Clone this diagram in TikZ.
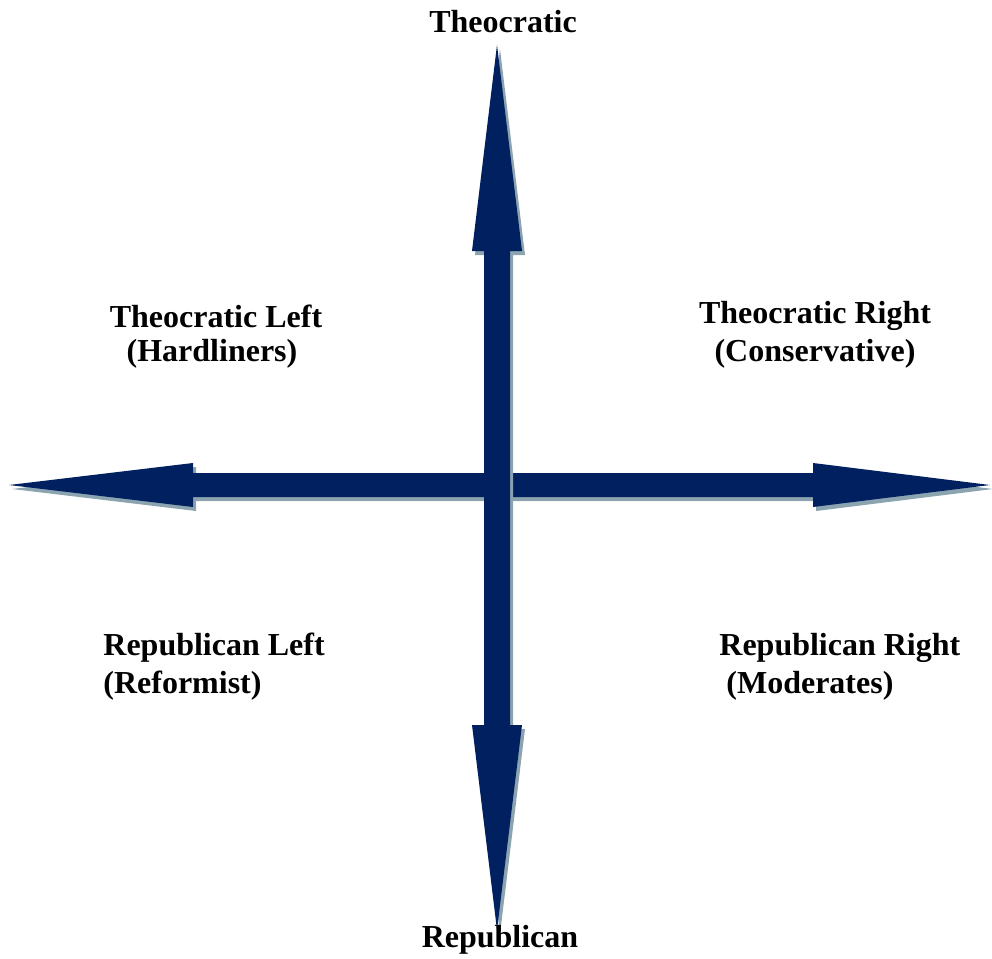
\documentclass[tikz,border=0pt]{standalone}
\usepackage{fontspec}
\setmainfont{Liberation Serif}
\usepackage{tikz}

\definecolor{navy}{RGB}{0,32,96}
\definecolor{shade}{RGB}{140,163,176}

\tikzset{
  arrowbody/.style={fill=navy},
  arrowshade/.style={fill=shade, shift={(3,4)}},
  label/.style={font=\fontsize{16}{19}\selectfont\bfseries, inner sep=0pt}
}

\begin{document}
\begin{tikzpicture}[x=0.5pt, y=-0.5pt]
    \useasboundingbox (0,0) rectangle (992,959);
    % horizontal axis
    \path[arrowshade] (9,485) -- (193,463) -- (193,473) -- (813,473) -- (813,463) -- (990,485)
        -- (813,507) -- (813,497) -- (193,497) -- (193,507) -- cycle;
    \path[arrowbody] (9,485) -- (193,463) -- (193,473) -- (813,473) -- (813,463) -- (990,485)
        -- (813,507) -- (813,497) -- (193,497) -- (193,507) -- cycle;
    % vertical axis
    \path[arrowshade] (497,45) -- (522,251) -- (510,251) -- (510,725) -- (522,725) -- (497,930)
        -- (472,725) -- (484,725) -- (484,251) -- (472,251) -- cycle;
    \path[arrowbody] (497,45) -- (522,251) -- (510,251) -- (510,725) -- (522,725) -- (497,930)
        -- (472,725) -- (484,725) -- (484,251) -- (472,251) -- cycle;

    \node[label] (top) at (503,22) {Theocratic};
    \node[label] (bottom) at (500,940) {Republican};

    \node[label] (tl1) at (216,316) {Theocratic Left};
    \node[label] (tl2) at (212,354) {(Hardliners)};
    \node[label] (tr1) at (815,316) {Theocratic Right};
    \node[label] (tr2) at (815,354) {(Conservative)};

    \node[label, anchor=west] (bl1) at (103,648) {Republican Left};
    \node[label, anchor=west] (bl2) at (103,686) {(Reformist)};
    \node[label, anchor=west] (br1) at (719,648) {Republican Right};
    \node[label, anchor=west] (br2) at (726,686) {(Moderates)};
\end{tikzpicture}
\end{document}
